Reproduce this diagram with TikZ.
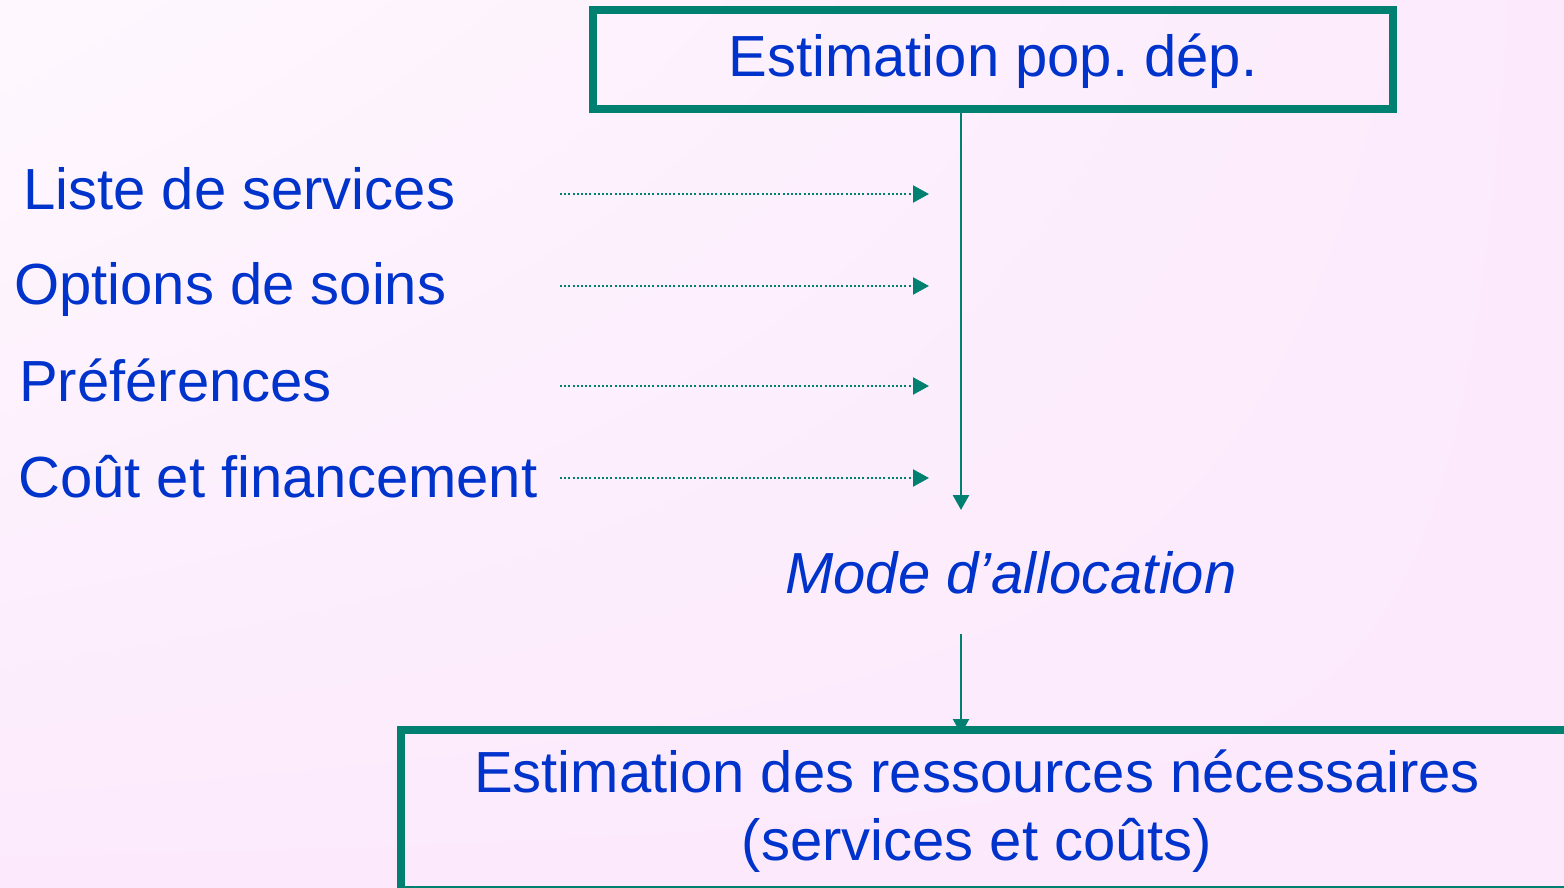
\documentclass[tikz,border=0pt]{standalone}
\usepackage{fontspec}
\setmainfont{Liberation Sans}
\usetikzlibrary{arrows.meta,shadings}
\definecolor{teal1}{RGB}{0,128,112}
\definecolor{blue1}{RGB}{0,51,204}
\definecolor{bgA}{RGB}{254,248,254}
\definecolor{bgB}{RGB}{252,234,252}
\frenchspacing
\begin{document}
\begin{tikzpicture}[x=1pt,y=-1pt,
  txt/.style={text=blue1,font=\fontsize{58}{68}\selectfont,inner sep=0pt},
  boxline/.style={draw=teal1,line width=8pt,outer sep=0pt,inner sep=0pt},
  solidarrow/.style={draw=teal1,line width=2.6pt,-{Triangle[length=15pt,width=16pt]}},
  dotarrow/.style={draw=teal1,line width=2.2pt,dash pattern=on 2pt off 2.2pt,-{Triangle[length=16pt,width=17pt]}}]
\useasboundingbox (0,0) rectangle (1564,888);
\clip (0,0) rectangle (1564,888);
\shade[upper left=bgA,upper right=bgB,lower left=bgB,lower right=bgB] (0,0) rectangle (1564,888);
% top box
\node[boxline,minimum width=800pt,minimum height=99.5pt,anchor=north west] (pop) at (593,10) {};
\node[txt,anchor=base] (poptxt) at (993,77) {Estimation pop. dép.};
% left labels
\node[txt,anchor=base west] (l1) at (23,209) {Liste de services};
\node[txt,anchor=base west] (l2) at (14,304) {Options de soins};
\node[txt,anchor=base west] (l3) at (19,401) {Préférences};
\node[txt,anchor=base west] (l4) at (18,497) {Coût et financement};
% dotted arrows
\foreach \i/\y in {1/194,2/286,3/386,4/478}{
  \coordinate (s\i) at (560,\y);
  \coordinate (e\i) at (929,\y);
  \draw[dotarrow] (s\i) -- (e\i);
}
% main vertical arrow
\coordinate (m1) at (961,510);
\draw[solidarrow] ([yshift=-4pt]pop.south -| m1) -- (m1);
% mode
\node[txt,anchor=base west,font=\fontsize{58}{68}\selectfont\itshape] (mode) at (785,593) {Mode d’allocation};
% bottom box
\node[boxline,minimum width=1250pt,minimum height=160pt,anchor=north west] (resbox) at (401,730) {};
\node[txt,align=center,anchor=base] (res) at (977,860) {Estimation des ressources nécessaires\\(services et coûts)};
\coordinate (m2) at (961,634);
\draw[solidarrow,line width=2.2pt] (m2) -- ([yshift=-4pt]m2 |- resbox.north);
\end{tikzpicture}
\end{document}
